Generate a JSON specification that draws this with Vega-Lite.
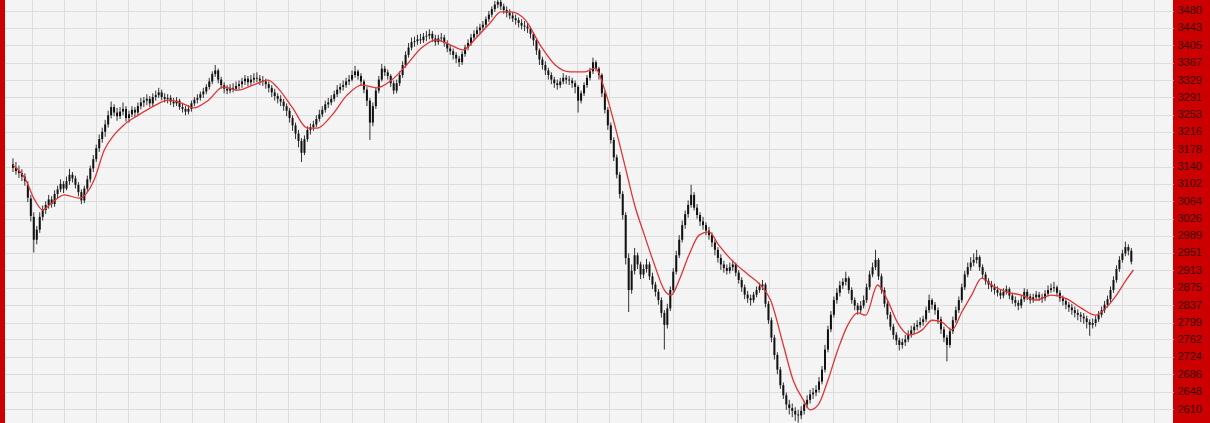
{
"$schema":"https://vega.github.io/schema/vega-lite/v6.json",
"width":1168,"height":423,
"autosize":{"type":"none"},
"padding":{"left":5,"top":0,"right":37,"bottom":0},
"background":"#cc0000",
"config":{"view":{"fill":"#f4f4f4","stroke":null},"axis":{"gridColor":"#dddddd","gridWidth":1}},
"datasets":{
"c":[
{"i":0,"o":3145,"h":3158,"l":3128,"c":3137},{"i":1,"o":3137,"h":3150,"l":3122,"c":3130},{"i":2,"o":3130,"h":3142,"l":3115,"c":3126},{"i":3,"o":3126,"h":3134,"l":3108,"c":3118},{"i":4,"o":3118,"h":3125,"l":3098,"c":3108},{"i":5,"o":3100,"h":3108,"l":3062,"c":3072},{"i":6,"o":3070,"h":3078,"l":3020,"c":3032},{"i":7,"o":3030,"h":3040,"l":2952,"c":2980},{"i":8,"o":2980,"h":3010,"l":2970,"c":3002},{"i":9,"o":3002,"h":3040,"l":2995,"c":3030},{"i":10,"o":3030,"h":3055,"l":3022,"c":3045},
{"i":11,"o":3045,"h":3064,"l":3036,"c":3056},{"i":12,"o":3056,"h":3078,"l":3048,"c":3068},{"i":13,"o":3068,"h":3075,"l":3050,"c":3058},{"i":14,"o":3058,"h":3088,"l":3052,"c":3080},{"i":15,"o":3080,"h":3098,"l":3070,"c":3090},{"i":16,"o":3090,"h":3112,"l":3084,"c":3102},{"i":17,"o":3102,"h":3108,"l":3082,"c":3092},{"i":18,"o":3092,"h":3118,"l":3088,"c":3108},{"i":19,"o":3108,"h":3135,"l":3100,"c":3122},{"i":20,"o":3122,"h":3128,"l":3105,"c":3114},{"i":21,"o":3114,"h":3120,"l":3092,"c":3100},{"i":22,"o":3100,"h":3106,"l":3075,"c":3084},{"i":23,"o":3084,"h":3090,"l":3058,"c":3066},{"i":24,"o":3066,"h":3098,"l":3060,"c":3092},
{"i":25,"o":3092,"h":3120,"l":3085,"c":3112},{"i":26,"o":3112,"h":3142,"l":3105,"c":3136},{"i":27,"o":3136,"h":3165,"l":3128,"c":3156},{"i":28,"o":3156,"h":3188,"l":3150,"c":3180},{"i":29,"o":3180,"h":3210,"l":3172,"c":3200},{"i":30,"o":3200,"h":3225,"l":3192,"c":3216},{"i":31,"o":3216,"h":3242,"l":3205,"c":3232},{"i":32,"o":3232,"h":3262,"l":3225,"c":3252},{"i":33,"o":3252,"h":3282,"l":3245,"c":3270},{"i":34,"o":3270,"h":3276,"l":3250,"c":3258},{"i":35,"o":3258,"h":3268,"l":3240,"c":3250},{"i":36,"o":3250,"h":3270,"l":3244,"c":3260},{"i":37,"o":3260,"h":3280,"l":3252,"c":3266},{"i":38,"o":3266,"h":3272,"l":3238,"c":3246},{"i":39,"o":3246,"h":3262,"l":3236,"c":3254},{"i":40,"o":3254,"h":3272,"l":3248,"c":3264},
{"i":41,"o":3264,"h":3270,"l":3248,"c":3258},{"i":42,"o":3258,"h":3280,"l":3252,"c":3272},{"i":43,"o":3272,"h":3290,"l":3265,"c":3280},{"i":44,"o":3280,"h":3292,"l":3270,"c":3284},{"i":45,"o":3284,"h":3298,"l":3274,"c":3288},{"i":46,"o":3288,"h":3294,"l":3270,"c":3278},{"i":47,"o":3278,"h":3300,"l":3272,"c":3292},{"i":48,"o":3292,"h":3306,"l":3284,"c":3296},{"i":49,"o":3296,"h":3312,"l":3290,"c":3302},{"i":50,"o":3302,"h":3308,"l":3285,"c":3292},{"i":51,"o":3292,"h":3300,"l":3280,"c":3288},{"i":52,"o":3288,"h":3298,"l":3278,"c":3290},{"i":53,"o":3290,"h":3296,"l":3274,"c":3282},{"i":54,"o":3282,"h":3290,"l":3270,"c":3278},{"i":55,"o":3278,"h":3292,"l":3272,"c":3284},{"i":56,"o":3284,"h":3288,"l":3264,"c":3270},{"i":57,"o":3270,"h":3278,"l":3258,"c":3266},{"i":58,"o":3266,"h":3272,"l":3252,"c":3260},{"i":59,"o":3260,"h":3274,"l":3254,"c":3266},{"i":60,"o":3266,"h":3284,"l":3260,"c":3278},
{"i":61,"o":3278,"h":3292,"l":3272,"c":3286},{"i":62,"o":3286,"h":3298,"l":3278,"c":3290},{"i":63,"o":3290,"h":3304,"l":3284,"c":3298},{"i":64,"o":3298,"h":3312,"l":3290,"c":3304},{"i":65,"o":3304,"h":3320,"l":3298,"c":3314},{"i":66,"o":3314,"h":3334,"l":3308,"c":3326},{"i":67,"o":3326,"h":3348,"l":3320,"c":3342},{"i":68,"o":3342,"h":3362,"l":3336,"c":3350},{"i":69,"o":3350,"h":3354,"l":3322,"c":3330},{"i":70,"o":3330,"h":3336,"l":3310,"c":3318},{"i":71,"o":3318,"h":3324,"l":3300,"c":3310},{"i":72,"o":3310,"h":3318,"l":3298,"c":3306},{"i":73,"o":3306,"h":3320,"l":3300,"c":3312},{"i":74,"o":3312,"h":3322,"l":3302,"c":3310},{"i":75,"o":3310,"h":3326,"l":3305,"c":3316},{"i":76,"o":3316,"h":3328,"l":3308,"c":3320},{"i":77,"o":3320,"h":3334,"l":3312,"c":3326},{"i":78,"o":3326,"h":3340,"l":3318,"c":3332},{"i":79,"o":3332,"h":3338,"l":3316,"c":3324},{"i":80,"o":3324,"h":3340,"l":3318,"c":3330},
{"i":81,"o":3330,"h":3344,"l":3322,"c":3334},{"i":82,"o":3334,"h":3346,"l":3324,"c":3332},{"i":83,"o":3332,"h":3340,"l":3318,"c":3328},{"i":84,"o":3328,"h":3338,"l":3316,"c":3326},{"i":85,"o":3326,"h":3332,"l":3310,"c":3320},{"i":86,"o":3320,"h":3326,"l":3302,"c":3312},{"i":87,"o":3312,"h":3318,"l":3292,"c":3302},{"i":88,"o":3302,"h":3310,"l":3284,"c":3294},{"i":89,"o":3294,"h":3300,"l":3278,"c":3288},{"i":90,"o":3288,"h":3296,"l":3272,"c":3282},{"i":91,"o":3282,"h":3288,"l":3262,"c":3272},{"i":92,"o":3272,"h":3278,"l":3250,"c":3262},{"i":93,"o":3262,"h":3268,"l":3236,"c":3246},{"i":94,"o":3246,"h":3252,"l":3218,"c":3230},{"i":95,"o":3230,"h":3236,"l":3200,"c":3212},{"i":96,"o":3212,"h":3220,"l":3182,"c":3196},{"i":97,"o":3196,"h":3202,"l":3150,"c":3170},{"i":98,"o":3170,"h":3208,"l":3165,"c":3200},{"i":99,"o":3200,"h":3228,"l":3194,"c":3220},{"i":100,"o":3220,"h":3234,"l":3210,"c":3226},
{"i":101,"o":3226,"h":3240,"l":3218,"c":3232},{"i":102,"o":3232,"h":3252,"l":3226,"c":3244},{"i":103,"o":3244,"h":3264,"l":3238,"c":3254},{"i":104,"o":3254,"h":3272,"l":3248,"c":3264},{"i":105,"o":3264,"h":3284,"l":3258,"c":3276},{"i":106,"o":3276,"h":3290,"l":3268,"c":3280},{"i":107,"o":3280,"h":3296,"l":3274,"c":3288},{"i":108,"o":3288,"h":3306,"l":3282,"c":3298},{"i":109,"o":3298,"h":3318,"l":3292,"c":3308},{"i":110,"o":3308,"h":3322,"l":3300,"c":3314},{"i":111,"o":3314,"h":3328,"l":3306,"c":3318},{"i":112,"o":3318,"h":3334,"l":3312,"c":3326},{"i":113,"o":3326,"h":3340,"l":3318,"c":3330},{"i":114,"o":3330,"h":3350,"l":3326,"c":3340},{"i":115,"o":3340,"h":3360,"l":3334,"c":3348},{"i":116,"o":3348,"h":3352,"l":3330,"c":3338},{"i":117,"o":3338,"h":3344,"l":3318,"c":3326},{"i":118,"o":3326,"h":3330,"l":3300,"c":3308},{"i":119,"o":3308,"h":3314,"l":3272,"c":3284},{"i":120,"o":3284,"h":3290,"l":3198,"c":3236},{"i":121,"o":3236,"h":3280,"l":3228,"c":3272},
{"i":122,"o":3272,"h":3312,"l":3266,"c":3306},{"i":123,"o":3306,"h":3338,"l":3300,"c":3330},{"i":124,"o":3330,"h":3364,"l":3326,"c":3354},{"i":125,"o":3354,"h":3360,"l":3338,"c":3346},{"i":126,"o":3346,"h":3352,"l":3330,"c":3338},{"i":127,"o":3338,"h":3342,"l":3314,"c":3322},{"i":128,"o":3322,"h":3328,"l":3298,"c":3306},{"i":129,"o":3306,"h":3330,"l":3300,"c":3322},{"i":130,"o":3322,"h":3348,"l":3316,"c":3340},{"i":131,"o":3340,"h":3370,"l":3334,"c":3362},{"i":132,"o":3362,"h":3392,"l":3356,"c":3384},{"i":133,"o":3384,"h":3410,"l":3378,"c":3400},{"i":134,"o":3400,"h":3422,"l":3394,"c":3412},{"i":135,"o":3412,"h":3424,"l":3402,"c":3414},{"i":136,"o":3414,"h":3428,"l":3406,"c":3418},{"i":137,"o":3418,"h":3430,"l":3408,"c":3416},{"i":138,"o":3416,"h":3432,"l":3410,"c":3424},{"i":139,"o":3424,"h":3436,"l":3414,"c":3426},{"i":140,"o":3426,"h":3440,"l":3418,"c":3430},
{"i":141,"o":3430,"h":3436,"l":3412,"c":3420},{"i":142,"o":3420,"h":3428,"l":3404,"c":3412},{"i":143,"o":3412,"h":3428,"l":3406,"c":3420},{"i":144,"o":3420,"h":3432,"l":3412,"c":3422},{"i":145,"o":3422,"h":3428,"l":3402,"c":3410},{"i":146,"o":3410,"h":3416,"l":3390,"c":3398},{"i":147,"o":3398,"h":3406,"l":3384,"c":3392},{"i":148,"o":3392,"h":3398,"l":3374,"c":3384},{"i":149,"o":3384,"h":3390,"l":3366,"c":3376},{"i":150,"o":3376,"h":3382,"l":3358,"c":3368},{"i":151,"o":3368,"h":3392,"l":3362,"c":3386},{"i":152,"o":3386,"h":3406,"l":3380,"c":3400},{"i":153,"o":3400,"h":3418,"l":3394,"c":3410},{"i":154,"o":3410,"h":3430,"l":3404,"c":3422},{"i":155,"o":3422,"h":3438,"l":3416,"c":3430},{"i":156,"o":3430,"h":3446,"l":3424,"c":3438},{"i":157,"o":3438,"h":3452,"l":3430,"c":3444},{"i":158,"o":3444,"h":3458,"l":3438,"c":3450},{"i":159,"o":3450,"h":3468,"l":3444,"c":3462},{"i":160,"o":3462,"h":3480,"l":3456,"c":3472},{"i":161,"o":3472,"h":3490,"l":3466,"c":3484},{"i":162,"o":3484,"h":3502,"l":3478,"c":3494},
{"i":163,"o":3494,"h":3512,"l":3486,"c":3500},{"i":164,"o":3500,"h":3506,"l":3482,"c":3490},{"i":165,"o":3490,"h":3496,"l":3474,"c":3482},{"i":166,"o":3482,"h":3490,"l":3466,"c":3476},{"i":167,"o":3476,"h":3484,"l":3462,"c":3470},{"i":168,"o":3470,"h":3478,"l":3456,"c":3464},{"i":169,"o":3464,"h":3472,"l":3450,"c":3460},{"i":170,"o":3460,"h":3466,"l":3444,"c":3454},{"i":171,"o":3454,"h":3462,"l":3440,"c":3448},{"i":172,"o":3448,"h":3458,"l":3436,"c":3446},{"i":173,"o":3446,"h":3454,"l":3432,"c":3442},{"i":174,"o":3442,"h":3446,"l":3420,"c":3430},{"i":175,"o":3430,"h":3434,"l":3404,"c":3416},{"i":176,"o":3416,"h":3420,"l":3384,"c":3394},{"i":177,"o":3394,"h":3398,"l":3362,"c":3374},{"i":178,"o":3374,"h":3380,"l":3352,"c":3362},{"i":179,"o":3362,"h":3370,"l":3340,"c":3350},{"i":180,"o":3350,"h":3356,"l":3330,"c":3340},
{"i":181,"o":3340,"h":3346,"l":3320,"c":3330},{"i":182,"o":3330,"h":3336,"l":3312,"c":3322},{"i":183,"o":3322,"h":3330,"l":3308,"c":3318},{"i":184,"o":3318,"h":3334,"l":3312,"c":3326},{"i":185,"o":3326,"h":3344,"l":3320,"c":3334},{"i":186,"o":3334,"h":3340,"l":3320,"c":3330},{"i":187,"o":3330,"h":3338,"l":3318,"c":3328},{"i":188,"o":3328,"h":3334,"l":3312,"c":3322},{"i":189,"o":3322,"h":3328,"l":3300,"c":3314},{"i":190,"o":3314,"h":3318,"l":3258,"c":3284},{"i":191,"o":3284,"h":3306,"l":3278,"c":3300},{"i":192,"o":3300,"h":3324,"l":3294,"c":3318},{"i":193,"o":3318,"h":3340,"l":3312,"c":3334},{"i":194,"o":3334,"h":3356,"l":3328,"c":3348},{"i":195,"o":3348,"h":3378,"l":3342,"c":3368},{"i":196,"o":3368,"h":3372,"l":3348,"c":3354},{"i":197,"o":3354,"h":3358,"l":3330,"c":3340},{"i":198,"o":3340,"h":3344,"l":3292,"c":3300},{"i":199,"o":3300,"h":3306,"l":3256,"c":3264},{"i":200,"o":3264,"h":3270,"l":3220,"c":3230},
{"i":201,"o":3230,"h":3236,"l":3190,"c":3198},{"i":202,"o":3198,"h":3204,"l":3152,"c":3160},{"i":203,"o":3160,"h":3166,"l":3114,"c":3122},{"i":204,"o":3122,"h":3128,"l":3070,"c":3080},{"i":205,"o":3080,"h":3086,"l":3024,"c":3034},{"i":206,"o":3034,"h":3040,"l":2926,"c":2940},{"i":207,"o":2940,"h":2950,"l":2822,"c":2870},{"i":208,"o":2870,"h":2926,"l":2862,"c":2912},{"i":209,"o":2912,"h":2962,"l":2904,"c":2946},{"i":210,"o":2946,"h":2952,"l":2916,"c":2926},{"i":211,"o":2926,"h":2932,"l":2894,"c":2904},{"i":212,"o":2904,"h":2926,"l":2896,"c":2916},{"i":213,"o":2916,"h":2938,"l":2908,"c":2926},{"i":214,"o":2926,"h":2932,"l":2892,"c":2900},{"i":215,"o":2900,"h":2908,"l":2872,"c":2882},{"i":216,"o":2882,"h":2888,"l":2856,"c":2866},{"i":217,"o":2866,"h":2872,"l":2838,"c":2848},{"i":218,"o":2848,"h":2854,"l":2810,"c":2820},{"i":219,"o":2820,"h":2826,"l":2740,"c":2794},{"i":220,"o":2794,"h":2840,"l":2786,"c":2830},
{"i":221,"o":2830,"h":2878,"l":2824,"c":2870},{"i":222,"o":2870,"h":2918,"l":2862,"c":2910},{"i":223,"o":2910,"h":2956,"l":2904,"c":2946},{"i":224,"o":2946,"h":2990,"l":2940,"c":2980},{"i":225,"o":2980,"h":3022,"l":2974,"c":3012},{"i":226,"o":3012,"h":3044,"l":3004,"c":3036},{"i":227,"o":3036,"h":3066,"l":3028,"c":3056},{"i":228,"o":3056,"h":3100,"l":3050,"c":3078},{"i":229,"o":3078,"h":3084,"l":3044,"c":3050},{"i":230,"o":3050,"h":3058,"l":3026,"c":3034},{"i":231,"o":3034,"h":3040,"l":3010,"c":3020},{"i":232,"o":3020,"h":3030,"l":3002,"c":3012},{"i":233,"o":3012,"h":3018,"l":2990,"c":3000},{"i":234,"o":3000,"h":3008,"l":2980,"c":2990},{"i":235,"o":2990,"h":2996,"l":2964,"c":2974},{"i":236,"o":2974,"h":2980,"l":2946,"c":2958},{"i":237,"o":2958,"h":2964,"l":2930,"c":2940},{"i":238,"o":2940,"h":2948,"l":2914,"c":2926},{"i":239,"o":2926,"h":2934,"l":2908,"c":2918},{"i":240,"o":2918,"h":2926,"l":2904,"c":2912},
{"i":241,"o":2912,"h":2930,"l":2906,"c":2920},{"i":242,"o":2920,"h":2936,"l":2912,"c":2926},{"i":243,"o":2926,"h":2930,"l":2900,"c":2908},{"i":244,"o":2908,"h":2914,"l":2884,"c":2892},{"i":245,"o":2892,"h":2898,"l":2866,"c":2876},{"i":246,"o":2876,"h":2882,"l":2850,"c":2860},{"i":247,"o":2860,"h":2868,"l":2842,"c":2852},{"i":248,"o":2852,"h":2860,"l":2836,"c":2848},{"i":249,"o":2848,"h":2866,"l":2842,"c":2860},{"i":250,"o":2860,"h":2878,"l":2854,"c":2870},{"i":251,"o":2870,"h":2886,"l":2864,"c":2878},{"i":252,"o":2878,"h":2892,"l":2870,"c":2882},{"i":253,"o":2882,"h":2886,"l":2832,"c":2840},{"i":254,"o":2840,"h":2846,"l":2796,"c":2804},{"i":255,"o":2804,"h":2810,"l":2756,"c":2766},{"i":256,"o":2766,"h":2772,"l":2718,"c":2728},{"i":257,"o":2728,"h":2734,"l":2686,"c":2696},{"i":258,"o":2696,"h":2702,"l":2654,"c":2662},{"i":259,"o":2662,"h":2668,"l":2632,"c":2640},{"i":260,"o":2640,"h":2646,"l":2608,"c":2620},
{"i":261,"o":2620,"h":2630,"l":2598,"c":2612},{"i":262,"o":2612,"h":2622,"l":2592,"c":2606},{"i":263,"o":2606,"h":2614,"l":2584,"c":2598},{"i":264,"o":2598,"h":2608,"l":2580,"c":2596},{"i":265,"o":2596,"h":2616,"l":2588,"c":2606},{"i":266,"o":2606,"h":2628,"l":2598,"c":2620},{"i":267,"o":2620,"h":2640,"l":2612,"c":2630},{"i":268,"o":2630,"h":2652,"l":2622,"c":2642},{"i":269,"o":2642,"h":2656,"l":2632,"c":2646},{"i":270,"o":2646,"h":2662,"l":2638,"c":2652},{"i":271,"o":2652,"h":2680,"l":2646,"c":2670},{"i":272,"o":2670,"h":2704,"l":2664,"c":2696},{"i":273,"o":2696,"h":2750,"l":2690,"c":2740},{"i":274,"o":2740,"h":2792,"l":2734,"c":2784},{"i":275,"o":2784,"h":2824,"l":2778,"c":2816},{"i":276,"o":2816,"h":2856,"l":2810,"c":2848},{"i":277,"o":2848,"h":2874,"l":2840,"c":2864},{"i":278,"o":2864,"h":2890,"l":2856,"c":2880},{"i":279,"o":2880,"h":2896,"l":2872,"c":2888},{"i":280,"o":2888,"h":2910,"l":2880,"c":2896},
{"i":281,"o":2896,"h":2900,"l":2862,"c":2870},{"i":282,"o":2870,"h":2876,"l":2840,"c":2848},{"i":283,"o":2848,"h":2854,"l":2826,"c":2836},{"i":284,"o":2836,"h":2842,"l":2816,"c":2826},{"i":285,"o":2826,"h":2846,"l":2820,"c":2836},{"i":286,"o":2836,"h":2858,"l":2830,"c":2848},{"i":287,"o":2848,"h":2884,"l":2842,"c":2876},{"i":288,"o":2876,"h":2912,"l":2870,"c":2904},{"i":289,"o":2904,"h":2930,"l":2898,"c":2920},{"i":290,"o":2920,"h":2958,"l":2914,"c":2936},{"i":291,"o":2936,"h":2940,"l":2892,"c":2900},{"i":292,"o":2900,"h":2906,"l":2862,"c":2870},{"i":293,"o":2870,"h":2876,"l":2832,"c":2840},{"i":294,"o":2840,"h":2846,"l":2806,"c":2816},{"i":295,"o":2816,"h":2822,"l":2782,"c":2790},{"i":296,"o":2790,"h":2796,"l":2762,"c":2772},{"i":297,"o":2772,"h":2778,"l":2750,"c":2760},{"i":298,"o":2760,"h":2766,"l":2738,"c":2750},{"i":299,"o":2750,"h":2764,"l":2742,"c":2756},{"i":300,"o":2756,"h":2772,"l":2748,"c":2762},
{"i":301,"o":2762,"h":2782,"l":2756,"c":2772},{"i":302,"o":2772,"h":2792,"l":2766,"c":2782},{"i":303,"o":2782,"h":2798,"l":2774,"c":2790},{"i":304,"o":2790,"h":2804,"l":2782,"c":2794},{"i":305,"o":2794,"h":2810,"l":2788,"c":2800},{"i":306,"o":2800,"h":2814,"l":2792,"c":2806},{"i":307,"o":2806,"h":2834,"l":2800,"c":2826},{"i":308,"o":2826,"h":2860,"l":2820,"c":2848},{"i":309,"o":2848,"h":2852,"l":2828,"c":2838},{"i":310,"o":2838,"h":2844,"l":2816,"c":2826},{"i":311,"o":2826,"h":2832,"l":2796,"c":2806},{"i":312,"o":2806,"h":2812,"l":2774,"c":2784},{"i":313,"o":2784,"h":2790,"l":2756,"c":2766},{"i":314,"o":2766,"h":2772,"l":2714,"c":2750},{"i":315,"o":2750,"h":2788,"l":2744,"c":2780},{"i":316,"o":2780,"h":2812,"l":2774,"c":2804},{"i":317,"o":2804,"h":2834,"l":2798,"c":2826},{"i":318,"o":2826,"h":2856,"l":2820,"c":2848},{"i":319,"o":2848,"h":2884,"l":2842,"c":2876},{"i":320,"o":2876,"h":2912,"l":2870,"c":2904},
{"i":321,"o":2904,"h":2930,"l":2898,"c":2920},{"i":322,"o":2920,"h":2942,"l":2912,"c":2930},{"i":323,"o":2930,"h":2950,"l":2922,"c":2936},{"i":324,"o":2936,"h":2958,"l":2928,"c":2942},{"i":325,"o":2942,"h":2946,"l":2912,"c":2920},{"i":326,"o":2920,"h":2926,"l":2896,"c":2904},{"i":327,"o":2904,"h":2910,"l":2882,"c":2890},{"i":328,"o":2890,"h":2896,"l":2872,"c":2882},{"i":329,"o":2882,"h":2890,"l":2866,"c":2876},{"i":330,"o":2876,"h":2884,"l":2860,"c":2870},{"i":331,"o":2870,"h":2878,"l":2856,"c":2864},{"i":332,"o":2864,"h":2872,"l":2850,"c":2858},{"i":333,"o":2858,"h":2874,"l":2852,"c":2866},{"i":334,"o":2866,"h":2880,"l":2860,"c":2872},{"i":335,"o":2872,"h":2876,"l":2850,"c":2858},{"i":336,"o":2858,"h":2864,"l":2840,"c":2848},{"i":337,"o":2848,"h":2856,"l":2834,"c":2842},{"i":338,"o":2842,"h":2848,"l":2826,"c":2836},{"i":339,"o":2836,"h":2858,"l":2830,"c":2850},{"i":340,"o":2850,"h":2874,"l":2844,"c":2866},
{"i":341,"o":2866,"h":2872,"l":2848,"c":2856},{"i":342,"o":2856,"h":2862,"l":2840,"c":2848},{"i":343,"o":2848,"h":2862,"l":2842,"c":2854},{"i":344,"o":2854,"h":2868,"l":2848,"c":2860},{"i":345,"o":2860,"h":2866,"l":2846,"c":2854},{"i":346,"o":2854,"h":2862,"l":2842,"c":2852},{"i":347,"o":2852,"h":2870,"l":2846,"c":2862},{"i":348,"o":2862,"h":2880,"l":2856,"c":2870},{"i":349,"o":2870,"h":2884,"l":2864,"c":2874},{"i":350,"o":2874,"h":2888,"l":2866,"c":2876},{"i":351,"o":2876,"h":2880,"l":2856,"c":2864},{"i":352,"o":2864,"h":2870,"l":2844,"c":2852},{"i":353,"o":2852,"h":2858,"l":2836,"c":2846},{"i":354,"o":2846,"h":2852,"l":2828,"c":2838},{"i":355,"o":2838,"h":2844,"l":2822,"c":2832},{"i":356,"o":2832,"h":2840,"l":2816,"c":2826},{"i":357,"o":2826,"h":2834,"l":2810,"c":2820},{"i":358,"o":2820,"h":2828,"l":2804,"c":2816},{"i":359,"o":2816,"h":2822,"l":2800,"c":2812},{"i":360,"o":2812,"h":2820,"l":2796,"c":2808},
{"i":361,"o":2808,"h":2814,"l":2786,"c":2800},{"i":362,"o":2800,"h":2806,"l":2770,"c":2794},{"i":363,"o":2794,"h":2808,"l":2786,"c":2798},{"i":364,"o":2798,"h":2814,"l":2790,"c":2806},{"i":365,"o":2806,"h":2824,"l":2800,"c":2816},{"i":366,"o":2816,"h":2834,"l":2810,"c":2826},{"i":367,"o":2826,"h":2846,"l":2820,"c":2838},{"i":368,"o":2838,"h":2858,"l":2832,"c":2850},{"i":369,"o":2850,"h":2878,"l":2844,"c":2870},{"i":370,"o":2870,"h":2900,"l":2864,"c":2892},{"i":371,"o":2892,"h":2924,"l":2886,"c":2916},{"i":372,"o":2916,"h":2944,"l":2910,"c":2936},{"i":373,"o":2936,"h":2958,"l":2930,"c":2950},{"i":374,"o":2950,"h":2976,"l":2944,"c":2964},{"i":375,"o":2964,"h":2970,"l":2946,"c":2956},{"i":376,"o":2956,"h":2962,"l":2926,"c":2932}
],
"ma":[
{"i":0,"m":3143},{"i":4,"m":3115},{"i":7.3,"m":3067},{"i":10,"m":3045},{"i":12.3,"m":3056},{"i":17.3,"m":3078},{"i":22.3,"m":3071},{"i":27.3,"m":3111},{"i":30.7,"m":3176},{"i":34,"m":3209},{"i":37.3,"m":3231},{"i":42.3,"m":3253},{"i":47.3,"m":3272},{"i":52.3,"m":3285},{"i":57.3,"m":3277},{"i":60.7,"m":3268},{"i":65.7,"m":3285},{"i":70.7,"m":3314},{"i":75.7,"m":3307},{"i":80.7,"m":3318},{"i":85.7,"m":3329},{"i":89,"m":3312},{"i":94,"m":3268},{"i":99,"m":3224},{"i":102.3,"m":3224},{"i":107.3,"m":3253},{"i":112.3,"m":3296},{"i":117.3,"m":3318},{"i":122.3,"m":3312},{"i":127.3,"m":3329},{"i":132.3,"m":3362},{"i":137.3,"m":3399},{"i":142.3,"m":3417},{"i":147.3,"m":3405},{"i":151.3,"m":3395},{"i":155.7,"m":3421},{"i":160.7,"m":3456},{"i":164,"m":3478},{"i":167.3,"m":3478},{"i":172.3,"m":3460},{"i":177.3,"m":3405},{"i":182.3,"m":3362},{"i":187.3,"m":3347},{"i":192.3,"m":3347},{"i":195.7,"m":3355},{"i":199,"m":3307},{"i":202.3,"m":3231},{"i":205.7,"m":3143},{"i":209,"m":3056},{"i":212.3,"m":2990},{"i":215.7,"m":2925},{"i":219,"m":2870},{"i":221.3,"m":2859},{"i":224,"m":2892},{"i":227.3,"m":2947},{"i":230.7,"m":2990},{"i":234,"m":2997},{"i":237.3,"m":2968},{"i":242.3,"m":2931},{"i":247.3,"m":2903},{"i":251.3,"m":2881},{"i":254.7,"m":2848},{"i":259,"m":2750},{"i":262.3,"m":2673},{"i":265.7,"m":2630},{"i":268,"m":2608},{"i":270.7,"m":2619},{"i":274,"m":2673},{"i":277.3,"m":2739},{"i":280.7,"m":2794},{"i":284,"m":2820},{"i":286.7,"m":2815},{"i":290.7,"m":2881},{"i":294,"m":2848},{"i":297.3,"m":2800},{"i":301.3,"m":2772},{"i":305.7,"m":2783},{"i":309,"m":2804},{"i":312.3,"m":2800},{"i":315.7,"m":2783},{"i":319,"m":2822},{"i":322.3,"m":2859},{"i":325.7,"m":2896},{"i":329,"m":2881},{"i":334,"m":2866},{"i":339,"m":2859},{"i":344,"m":2848},{"i":349,"m":2859},{"i":354,"m":2852},{"i":359.3,"m":2830},{"i":364,"m":2815},{"i":367.3,"m":2830},{"i":371,"m":2859},{"i":374.3,"m":2892},{"i":376.7,"m":2914}
]
},
"layer":[
{"data":{"name":"c"},"mark":{"type":"rule","color":"#333333","strokeWidth":1,"clip":true},
 "encoding":{
  "x":{"field":"i","type":"quantitative","scale":{"domain":[-1,388.33],"nice":false,"zero":false},"axis":{"orient":"bottom","values":[6.23,17.01,27.8,38.58,49.36,60.15,70.93,81.71,92.49,103.28,114.06,124.84,135.63,146.41,157.19,167.98,178.76,189.54,200.32,211.11,221.89,232.67,243.46,254.24,265.02,275.81,286.59,297.37,308.15,318.94,329.72,340.5,351.29,362.07,372.85,383.64],"tickCount":100,"grid":true,"labels":false,"ticks":false,"domain":false,"title":null}},
  "y":{"field":"l","type":"quantitative","scale":{"domain":[2579.4,3504],"nice":false,"zero":false},"axis":{"orient":"right","values":[2572,2610,2648,2686,2724,2762,2799,2837,2875,2913,2951,2989,3026,3064,3102,3140,3178,3216,3253,3291,3329,3367,3405,3443,3480],"tickCount":100,"format":"d","labelOverlap":false,"labelBound":false,"grid":true,"ticks":false,"domain":false,"title":null,"labelColor":"#330000","labelFont":"Liberation Sans","labelFontSize":11,"labelPadding":4}},
  "y2":{"field":"h"}
 }},
{"data":{"name":"c"},"mark":{"type":"bar","color":"#111111","width":2,"clip":true},
 "encoding":{
  "x":{"field":"i","type":"quantitative"},
  "y":{"field":"o","type":"quantitative"},
  "y2":{"field":"c"}
 }},
{"data":{"name":"ma"},"mark":{"type":"line","color":"#e03535","strokeWidth":1.3,"interpolate":"monotone","clip":true},
 "encoding":{
  "x":{"field":"i","type":"quantitative"},
  "y":{"field":"m","type":"quantitative"}
 }}
]
}
